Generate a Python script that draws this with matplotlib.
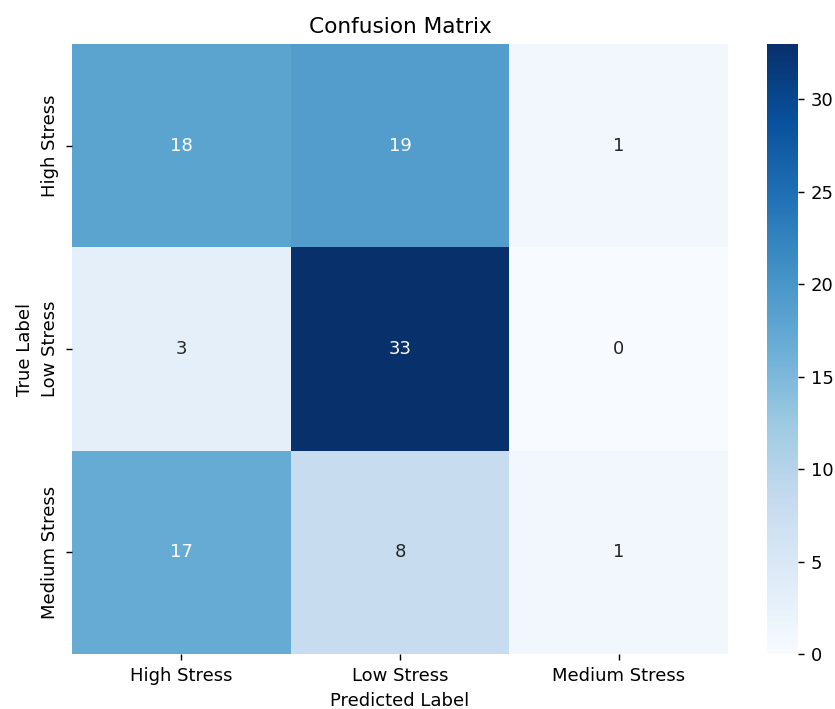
import matplotlib
matplotlib.use("Agg")
import matplotlib.pyplot as plt
import seaborn as sns
import numpy as np

labels = ["High Stress", "Low Stress", "Medium Stress"]
matrix = np.array([[18, 19, 1],
                   [3, 33, 0],
                   [17, 8, 1]])

W, H = 835, 709
DPI = 130
fig = plt.figure(figsize=(W/DPI, H/DPI), dpi=DPI)
top, bottom = 44, 654
ax = fig.add_axes([72/W, 1-bottom/H, (728-72)/W, (bottom-top)/H])
cax = fig.add_axes([767/W, 1-bottom/H, (798-767)/W, (bottom-top)/H])
sns.heatmap(matrix, annot=True, fmt="d", cmap="Blues", xticklabels=labels,
            yticklabels=labels, ax=ax, cbar_ax=cax)
ax.set_title("Confusion Matrix")
ax.set_xlabel("Predicted Label")
ax.set_ylabel("True Label")
fig.savefig("out.png", dpi=DPI)
